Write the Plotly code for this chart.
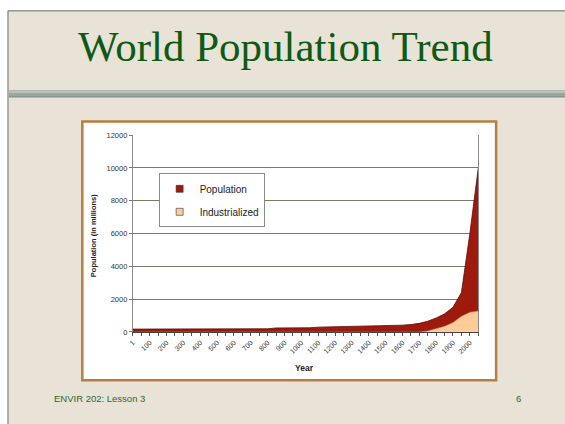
import plotly.graph_objects as go

# ---------------- data ----------------
years = ['1', '50', '100', '150', '200', '250', '300', '350', '400', '450',
         '500', '550', '600', '650', '700', '750', '800', '850', '900', '950',
         '1000', '1050', '1100', '1150', '1200', '1250', '1300', '1350', '1400', '1450',
         '1500', '1550', '1600', '1650', '1700', '1750', '1800', '1850', '1900', '1950',
         '2000', '2050']
population = [170, 170, 170, 170, 170, 170, 170, 170, 170, 170,
              170, 170, 170, 170, 170, 170, 190, 240, 240, 240,
              240, 250, 290, 300, 300, 300, 310, 320, 370, 370,
              380, 390, 410, 450, 520, 650, 850, 1100, 1500, 2400,
              6000, 10000]
industrialized = [0, 0, 0, 0, 0, 0, 0, 0, 0, 0,
                  0, 0, 0, 0, 0, 0, 0, 0, 0, 0,
                  0, 0, 0, 0, 0, 0, 0, 0, 0, 0,
                  0, 0, 0, 0, 0, 60, 200, 340, 580, 950,
                  1200, 1270]
y_ticks = [0, 2000, 4000, 6000, 8000, 10000, 12000]
label_step = 2

W, H = 565, 424


def px(x):
    return x / W


def py(y):
    return 1 - y / H


xpos = list(range(len(years)))
tick_idx = xpos[::label_step]
tick_txt = [years[i] for i in tick_idx]

fig = go.Figure()
fig.add_trace(go.Scatter(
    x=xpos, y=population, mode='lines', fill='tozeroy',
    fillcolor='#9E1A0C', line=dict(color='#5E0C06', width=0.8),
    name='Population', showlegend=False, hoverinfo='skip'))
fig.add_trace(go.Scatter(
    x=xpos, y=industrialized, mode='lines', fill='tozeroy',
    fillcolor='#FFCC99', line=dict(color='#B08060', width=0.5),
    name='Industrialized', showlegend=False, hoverinfo='skip'))
# legend entries (square swatches like the original)
fig.add_trace(go.Scatter(
    x=[None], y=[None], mode='markers', name='Population', legendgroup='a',
    marker=dict(symbol='square', size=7, color='#9E1A0C',
                line=dict(color='#333333', width=0.6))))
fig.add_trace(go.Scatter(
    x=[None], y=[None], mode='markers', name='Industrialized', legendgroup='b',
    marker=dict(symbol='square', size=7, color='#FFCC99',
                line=dict(color='#333333', width=0.6))))

shapes = [
    # slide background
    dict(type='rect', xref='paper', yref='paper', layer='below',
         x0=px(3), x1=px(570), y0=py(430), y1=py(7),
         fillcolor='#E9E2D7', line=dict(color='#6A6A6A', width=1)),
    # separator bar
    dict(type='rect', xref='paper', yref='paper', layer='below',
         x0=px(4), x1=px(565), y0=py(95), y1=py(88),
         fillcolor='#9AA69F', line=dict(width=0)),
    dict(type='rect', xref='paper', yref='paper', layer='below',
         x0=px(4), x1=px(565), y0=py(91), y1=py(89),
         fillcolor='#B9C3BC', line=dict(width=0)),
    dict(type='line', xref='paper', yref='paper', layer='below',
         x0=px(4), x1=px(565), y0=py(95), y1=py(95),
         line=dict(color='#7C8A82', width=1)),
    # chart frame
    dict(type='rect', xref='paper', yref='paper', layer='below',
         x0=px(78), x1=px(495.5), y0=py(384.5), y1=py(120),
         fillcolor='#FFFFFF', line=dict(color='#B5803F', width=2.5)),
]

annotations = [
    dict(text='World Population Trend', xref='paper', yref='paper',
         x=px(283), y=py(43), xanchor='center', yanchor='middle', showarrow=False,
         font=dict(family='Liberation Serif', size=43, color='#0E5A12')),
    dict(text='Population (in millions)', xref='paper', yref='paper',
         x=px(90), y=py(237), xanchor='center', yanchor='middle', showarrow=False,
         textangle=-90,
         font=dict(family='Liberation Sans', size=7.5, color='#222222', weight='bold')),
    dict(text='Year', xref='paper', yref='paper',
         x=px(302), y=py(372), xanchor='center', yanchor='middle', showarrow=False,
         font=dict(family='Liberation Sans', size=8.5, color='#222222', weight='bold')),
    dict(text='ENVIR 202: Lesson 3', xref='paper', yref='paper',
         x=px(47), y=py(403), xanchor='left', yanchor='middle', showarrow=False,
         font=dict(family='Liberation Sans', size=9.5, color='#2B6A2B')),
    dict(text='6', xref='paper', yref='paper',
         x=px(518), y=py(403), xanchor='center', yanchor='middle', showarrow=False,
         font=dict(family='Liberation Sans', size=9.5, color='#2B6A2B')),
]

fig.update_layout(
    width=W, height=H,
    margin=dict(l=0, r=0, t=0, b=0),
    paper_bgcolor='#FFFFFF',
    plot_bgcolor='#FFFFCC',
    font=dict(family='Liberation Sans', color='#333333'),
    shapes=shapes,
    annotations=annotations,
    showlegend=True,
    legend=dict(x=px(155), y=py(173), xanchor='left', yanchor='top',
                bgcolor='#FFFFFF', bordercolor='#8A8A8A', borderwidth=1,
                font=dict(family='Liberation Sans', size=10, color='#222222'),
                tracegroupgap=4, itemclick=False),
    xaxis=dict(domain=[px(129), px(477.5)], range=[0, len(years) - 1],
               tickmode='array', tickvals=tick_idx, ticktext=tick_txt,
               tickangle=-45, tickfont=dict(size=7, color='#333333'),
               ticks='outside', ticklen=3, tickcolor='#555555',
               minor=dict(dtick=1, tick0=0, ticks='outside', ticklen=3, tickcolor='#555555'),
               showgrid=False, zeroline=False,
               showline=True, linecolor='#444444', linewidth=1),
    yaxis=dict(domain=[py(335), py(134)], range=[0, 12000],
               tickmode='array', tickvals=y_ticks, ticktext=[str(v) for v in y_ticks],
               tickfont=dict(size=7.5, color='#333333'),
               ticks='outside', ticklen=3, tickcolor='#777777',
               showgrid=True, gridcolor='#7A7A66', gridwidth=1,
               zeroline=False, showline=True, linecolor='#8A8A8A', mirror=True),
)

fig.write_html('out.html')
